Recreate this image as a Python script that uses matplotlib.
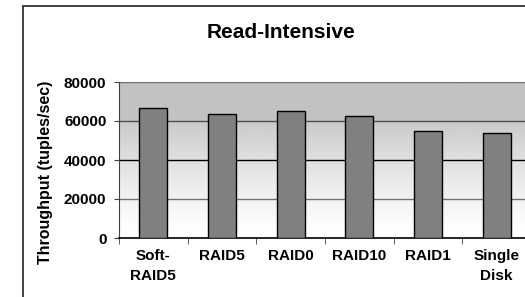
import numpy as np
import matplotlib
matplotlib.use('Agg')
import matplotlib.pyplot as plt
from matplotlib.patches import Rectangle

categories = ['Soft-\nRAID5', 'RAID5', 'RAID0', 'RAID10', 'RAID1', 'Single\nDisk']
throughput = [66700, 63600, 65100, 62500, 54900, 53800]
yticks = [0, 20000, 40000, 60000, 80000]

plt.rcParams['font.family'] = ['Liberation Sans', 'DejaVu Sans']
plt.rcParams['font.weight'] = 'bold'

fig = plt.figure(figsize=(5.25, 2.97), dpi=100)
ax = fig.add_axes([119/525, 1-238/297, 412/525, 156/297])

# outer chart frame (cut off on the right / bottom)
fig.patches.append(Rectangle((23/525, -0.1), 1.2, 1-6/297+0.1, transform=fig.transFigure,
                             fill=False, edgecolor='#202020', linewidth=1.2, zorder=0))

# gradient backdrop: flat grey above 60000, fading to white at 0
ys = np.linspace(0, 80000, 200)
shade = np.where(ys >= 60000, 0.76, 1.0 - (ys/60000)**1.3*0.21)
grad = np.tile(shade[:, None], (1, 2))
ax.imshow(grad, cmap='gray', vmin=0, vmax=1, origin='lower', aspect='auto',
          extent=[-0.5, len(categories)-0.5, 0, 80000], zorder=0)

x = np.arange(len(categories))
ax.bar(x, throughput, width=0.41, color='#808080', edgecolor='black', linewidth=1.0, zorder=3)

for yv, c in zip([20000, 40000, 60000, 80000], ['#707070', 'black', '#505050', '#707070']):
    ax.axhline(yv, color=c, linewidth=1.0, zorder=1)

ax.set_xlim(-0.5, len(categories)-0.5)
ax.set_ylim(0, 80000)
ax.set_yticks(yticks)
ax.set_yticklabels([str(v) for v in yticks], fontsize=11, fontweight='bold')
ax.set_xticks(np.arange(len(categories)+1)-0.5, minor=True)
ax.set_xticks(x)
ax.set_xticklabels(categories, fontsize=11, fontweight='bold', linespacing=1.55)
ax.tick_params(axis='x', which='major', length=0, pad=8)
ax.tick_params(axis='x', which='minor', length=4, direction='out', color='#404040')
ax.tick_params(axis='y', length=3.5, direction='out', color='#404040', pad=5.5)

for s in ['top', 'right']:
    ax.spines[s].set_visible(False)
ax.spines['left'].set_color('#404040')
ax.spines['bottom'].set_color('black')
ax.spines['bottom'].set_linewidth(1.2)

ax.set_ylabel('Throughput (tuples/sec)', fontsize=11.5, fontweight='bold')
ax.yaxis.set_label_coords(-66/412, 0.42)
fig.text(281.5/525, 1-32/297, 'Read-Intensive', ha='center', va='center', fontsize=15, fontweight='bold')

fig.savefig('out.png', dpi=100)
